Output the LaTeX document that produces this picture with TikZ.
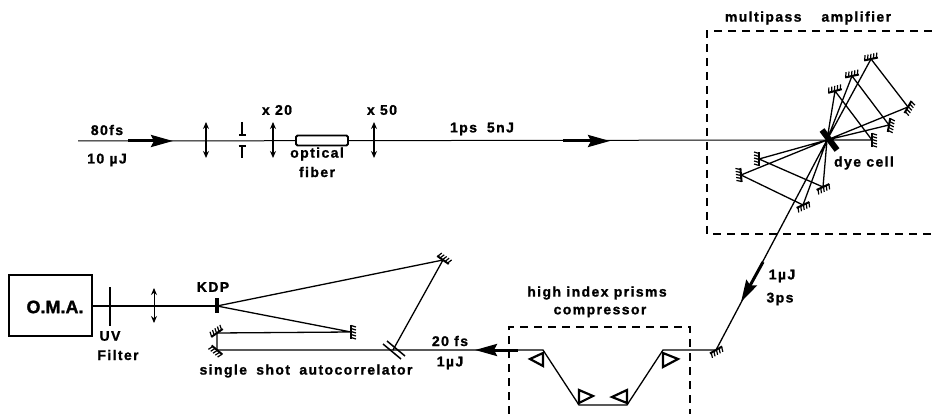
\documentclass[tikz,border=0pt]{standalone}
\usepackage{fontspec}
\setmainfont[LetterSpace=10,BoldFeatures={FakeBold=1.2}]{Liberation Sans}
\usetikzlibrary{arrows.meta,calc,positioning}
\tikzset{
  beam/.style={line width=1.3pt,black},
  bigbeam/.style={line width=2.2pt,black},
  pulse/.style={line width=3pt,-{Stealth[length=22pt,width=12pt,inset=3pt]}},
  lens/.style={line width=1.6pt,{Stealth[length=7pt,width=6pt]}-{Stealth[length=7pt,width=6pt]}},
  iris/.style={line width=2pt,-{Bar[width=7pt,line width=1.6pt]}},
  frame/.style={line width=1.2pt,dash pattern=on 8pt off 6pt},
  lab/.style={font=\bfseries\fontsize{14}{16}\selectfont,inner sep=0pt},
  prism/.style={line width=2.2pt,line join=miter},
  pics/mirror/.style={code={
    \draw[line width=2pt] (-7,0) -- (7,0);
    \foreach \t in {-6.5,-3.5,-.5,2.5,5.5} {\draw[line width=1.2pt] (\t,0) -- ++(1.5,-5);}
  }}
}
\begin{document}
\begin{tikzpicture}[x=1pt,y=-1pt]
 \useasboundingbox (0,0) rectangle (932,414);
 % dashed boxes
 \draw[frame] (932,31) -- (707,31) -- (707,234) -- (932,234);
 \draw[frame] (509,414) -- (509,327) -- (690,327) -- (690,414);
 % mirrors of the amplifier and the rest of the line
 \foreach \nm/\x/\y/\ang in {ma/871/59/12, mb/852/76/12, mc/835/91/15,
                             md/908/107/-120, me/889/125/-100, mf/872/140/-90,
                             mg/759/159/90, mh/741/175/95,
                             mi/823/187/205, mj/803/205/205,
                             mk/716/350/210,
                             ml/443/260/-35, mm/351/332/-90,
                             mn/217/333/35, mo/217/350/140}{
  \coordinate (\nm) at (\x,\y);
  \path (\nm) pic[rotate=\ang] {mirror};
 }
 \coordinate (start) at (78,141);
 \coordinate (cell) at (827,140);
 \coordinate (kdp) at (217,306);
 \coordinate (split) at (393,350);
 \coordinate (pa) at (543,350);
 \coordinate (pb) at (579,405);
 \coordinate (pc) at (627,405);
 \coordinate (pd) at (663,350);
 % beam through the amplifier
 \draw[beam,line width=1pt] (start) -- (cell);
 \draw[beam] (cell) -- (mf) -- (mc) -- (cell) -- (mi) -- (mg) -- (cell)
   -- (me) -- (mb) -- (cell) -- (mj) -- (mh) -- (cell) -- (md) -- (ma) -- (cell) -- (mk);
 \draw[line width=6pt] (822,130) -- (837,150);
 % compressor
 \draw[beam] (mk) -- (pd) -- (pc) -- (pb) -- (pa) -- (split);
 \draw[prism] (530,359) -- (543,353) -- (543,366) -- cycle;
 \draw[prism] (579,390) -- (593,396) -- (579,403) -- cycle;
 \draw[prism] (627,390) -- (612,397) -- (627,403) -- cycle;
 \draw[prism] (663,353) -- (678,359) -- (663,367) -- cycle;
 % autocorrelator
 \draw[beam] (split) -- (ml) -- (kdp) -- (mm) -- (mn) -- (mo) -- (split);
 \draw[line width=1.5pt] (383,344) -- (401,359);
 \draw[line width=1.5pt] (387,341) -- (405,356);
 \draw[line width=3.5pt] (217,298) -- (217,313);
 % detection
 \node[draw,line width=2.4pt,minimum width=83pt,minimum height=61pt,inner sep=0pt] (oma) at (50.5,305.5) {};
 \node[font=\bfseries\fontsize{18}{20}\selectfont,inner sep=0pt,
       ] (tom) at (55,307) {\addfontfeature{LetterSpace=0}O.M.A.};
 \draw[bigbeam] (oma.east |- kdp) -- (kdp);
 \coordinate (uvt) at (110,287);
 \coordinate (uvb) at (110,326);
 \draw[line width=1.5pt] (uvt) -- (uvb);
 \coordinate (lt) at (154,288);
 \coordinate (lb) at (154,323);
 \draw[lens,line width=1pt] (lt) -- (lb);
 % elements on the input line
 \foreach \nm/\x in {la/206,lc/273,ld/374}{
  \coordinate (\nm t) at (\x,122);
  \coordinate (\nm b) at (\x,158);
  \draw[lens] (\nm t) -- (\nm b);
 }
 \coordinate (ibt) at (242,122);
 \coordinate (ibb) at (242,158);
 \draw[iris] (ibt) -- (242,136);
 \draw[iris] (ibb) -- (242,145);
 \node[draw,fill=white,line width=1.8pt,rounded corners=1.5pt,minimum width=52pt,
       minimum height=10pt,inner sep=0pt] (fiber) at (322,140.5) {};
 % pulses
 \draw[pulse] (128,141) -- (173,141);
 \draw[pulse] (563,141) -- (610,141);
 \draw[pulse] (763,262) -- (741,302);
 \draw[pulse] (518,350) -- (475,350);
 % labels
 \node[lab] (t80) at (107,130) {80fs};
 \node[lab] (t10) at (107,160) {10 µJ};
 \node[lab] (t20) at (277,110) {x 20};
 \node[lab] (t50) at (382,110) {x 50};
 \node[lab] (topt) at (317,154) {optical};
 \node[lab] (tfib) at (317,172) {fiber};
 \node[lab] (tps) at (482,129) {1ps\hspace{10pt}5nJ};
 \node[lab] (tamp) at (808,18) {multipass\hspace{20pt}amplifier};
 \node[lab] (tdye) at (864,163) {dye cell};
 \node[lab] (tuj) at (782,276) {1µJ};
 \node[lab] (t3p) at (780,299) {3ps};
 \node[lab] (thi) at (597,293) {high index prisms};
 \node[lab] (tcom) at (600,312) {compressor};
 \node[lab] (t2f) at (450,341) {20 fs};
 \node[lab] (t1u) at (450,363) {1µJ};
 \node[lab] (tss) at (306,371) {single\hspace{4pt} shot\hspace{4pt} autocorrelator};
 \node[lab] (tkd) at (213,287) {KDP};
 \node[lab] (tuv) at (110,336) {UV};
 \node[lab] (tfl) at (118,355) {Filter};
\end{tikzpicture}
\end{document}
